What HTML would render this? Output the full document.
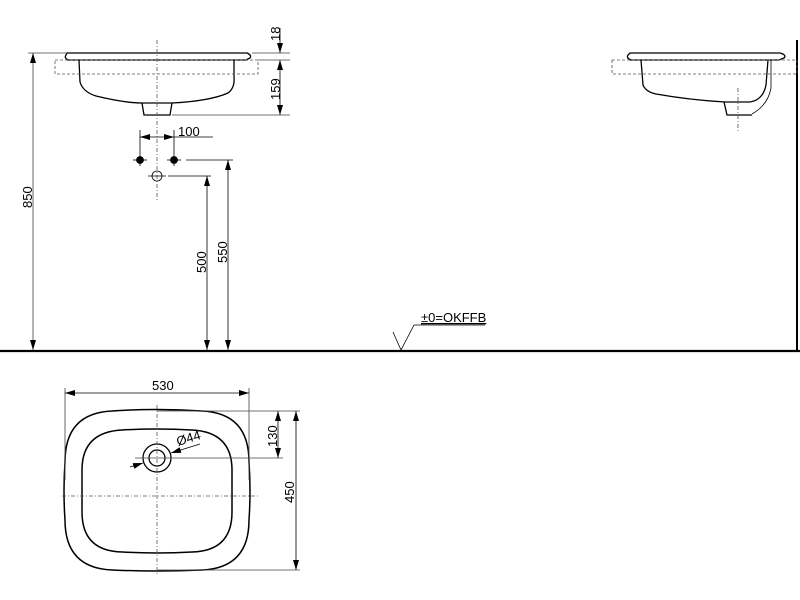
<!DOCTYPE html>
<html><head><style>html,body{margin:0;padding:0;background:#fff}svg{display:block}text{font-family:"Liberation Sans",Arial,sans-serif;font-size:13px;fill:#000}</style></head>
<body>
<svg width="800" height="600" viewBox="0 0 800 600" xmlns="http://www.w3.org/2000/svg">
<defs>
<marker id="a" viewBox="0 0 10 6" refX="10" refY="3" markerWidth="10" markerHeight="6" orient="auto-start-reverse" markerUnits="userSpaceOnUse"><path d="M0,0 L10,3 L0,6 z" fill="#000"/></marker>
</defs>
<g stroke="#000" fill="none" stroke-width="0.8">
<!-- side view left -->
<path d="M67,53 L247,53 Q252,55 250,58 L246,60 L68,60 Q64,58 66,55 Z" stroke-width="1.3"/>
<path d="M79,60 L80,82 Q83,92 96,96 Q125,103 142,103 L172,103 Q210,101 228,93 Q235,88 234,77 L234,60" stroke-width="1.3"/>
<path d="M142,103 L144,115 L170,115 L172,103" stroke-width="1.3"/>
<rect x="55" y="60" width="203" height="14" stroke-dasharray="3,2" stroke="#555"/>
<line x1="157" y1="40" x2="157" y2="200" stroke-dasharray="4,2,1,2" stroke="#555"/>
<line x1="252" y1="53" x2="290" y2="53" stroke="#444"/>
<line x1="258" y1="60" x2="290" y2="60" stroke="#444"/>
<line x1="172" y1="115" x2="290" y2="115" stroke="#444"/>
<line x1="280" y1="28" x2="280" y2="53" marker-end="url(#a)"/>
<line x1="280" y1="60" x2="280" y2="115" marker-start="url(#a)" marker-end="url(#a)"/>
<line x1="28" y1="53" x2="67" y2="53" stroke="#444"/>
<line x1="33" y1="53" x2="33" y2="350" marker-start="url(#a)" marker-end="url(#a)" stroke="#444"/>
<!-- taps -->
<line x1="140" y1="130" x2="140" y2="166"/><line x1="174" y1="130" x2="174" y2="166"/>
<line x1="133" y1="160" x2="147" y2="160"/><line x1="167" y1="160" x2="181" y2="160"/>
<line x1="140" y1="137" x2="174" y2="137" marker-start="url(#a)" marker-end="url(#a)"/>
<line x1="174" y1="137" x2="213" y2="137"/>
<circle cx="140" cy="160" r="3.5" fill="#000"/><circle cx="174" cy="160" r="3.5" fill="#000"/>
<circle cx="157" cy="176" r="5"/>
<line x1="148" y1="176" x2="166" y2="176"/>
<line x1="186" y1="160" x2="233" y2="160"/>
<line x1="168" y1="176" x2="211" y2="176"/>
<line x1="207" y1="176" x2="207" y2="350" marker-start="url(#a)" marker-end="url(#a)"/>
<line x1="228" y1="160" x2="228" y2="350" marker-start="url(#a)" marker-end="url(#a)"/>
<!-- floor -->
<line x1="0" y1="351" x2="800" y2="351" stroke-width="2.2"/>
<line x1="797" y1="40" x2="797" y2="351" stroke-width="2"/>
<path d="M393,332 L401,350 L414,325 L485,325"/>
<!-- right side view -->
<path d="M630,53 L780,53 Q787,55 784,58 L779,60 L631,60 Q626,58 628,55 Z" stroke-width="1.3"/>
<path d="M641,60 L643,85 Q646,92 656,94 Q690,100 725,102 L750,102 Q763,100 766,85 L768,60" stroke-width="1.3"/>
<path d="M771,60 L771,88 Q768,105 752,114"/>
<path d="M724,102 L727,115 L752,115" stroke-width="1.3"/>
<rect x="612" y="60" width="185" height="14" stroke-dasharray="3,2" stroke="#555"/>
<line x1="738" y1="88" x2="738" y2="132" stroke-dasharray="4,2,1,2" stroke="#555"/>
<!-- plan view -->
<path d="M112,411 Q157,408 202,411 Q249,413 249,462 Q251,491 249,520 Q249,568 202,570 Q157,572 112,570 Q65,568 65,520 Q63,491 65,462 Q65,413 112,411 Z" stroke-width="1.5"/>
<path d="M122,430 Q157,428 192,430 Q232,432 232,470 L232,512 Q232,551 192,552 Q157,554 122,552 Q82,551 82,512 L82,470 Q82,432 122,430 Z" stroke-width="1.5"/>
<circle cx="157" cy="458" r="14" stroke-width="1.3"/>
<circle cx="157" cy="458" r="8" stroke-width="1.3"/>
<line x1="157" y1="405" x2="157" y2="575" stroke-dasharray="4,2,1,2" stroke="#555"/>
<line x1="62" y1="496" x2="258" y2="496" stroke-dasharray="4,2,1,2" stroke="#555"/>
<line x1="65" y1="388" x2="65" y2="480" stroke="#444"/>
<line x1="249" y1="388" x2="249" y2="480" stroke="#444"/>
<line x1="65" y1="393" x2="249" y2="393" marker-start="url(#a)" marker-end="url(#a)"/>
<line x1="157" y1="411" x2="300" y2="411" stroke="#444"/>
<line x1="157" y1="570" x2="300" y2="570" stroke="#444"/>
<line x1="135" y1="458" x2="283" y2="458" stroke="#444"/>
<line x1="278" y1="411" x2="278" y2="458" marker-start="url(#a)" marker-end="url(#a)"/>
<line x1="296" y1="411" x2="296" y2="570" marker-start="url(#a)" marker-end="url(#a)"/>
<line x1="130" y1="467" x2="143" y2="463" marker-end="url(#a)"/>
<line x1="200" y1="444" x2="171" y2="453" marker-end="url(#a)"/>
</g>
<text x="178" y="136">100</text>
<text x="152" y="390">530</text>
<text x="421" y="322" text-decoration="underline">±0=OKFFB</text>
<text x="178" y="446" transform="rotate(-17 178 446)">Ø44</text>
<text transform="translate(280,41) rotate(-90)">18</text>
<text transform="translate(280,100) rotate(-90)">159</text>
<text transform="translate(32,208) rotate(-90)">850</text>
<text transform="translate(206,273) rotate(-90)">500</text>
<text transform="translate(227,263) rotate(-90)">550</text>
<text transform="translate(277,447) rotate(-90)">130</text>
<text transform="translate(294,503) rotate(-90)">450</text>
</svg>
</body></html>
